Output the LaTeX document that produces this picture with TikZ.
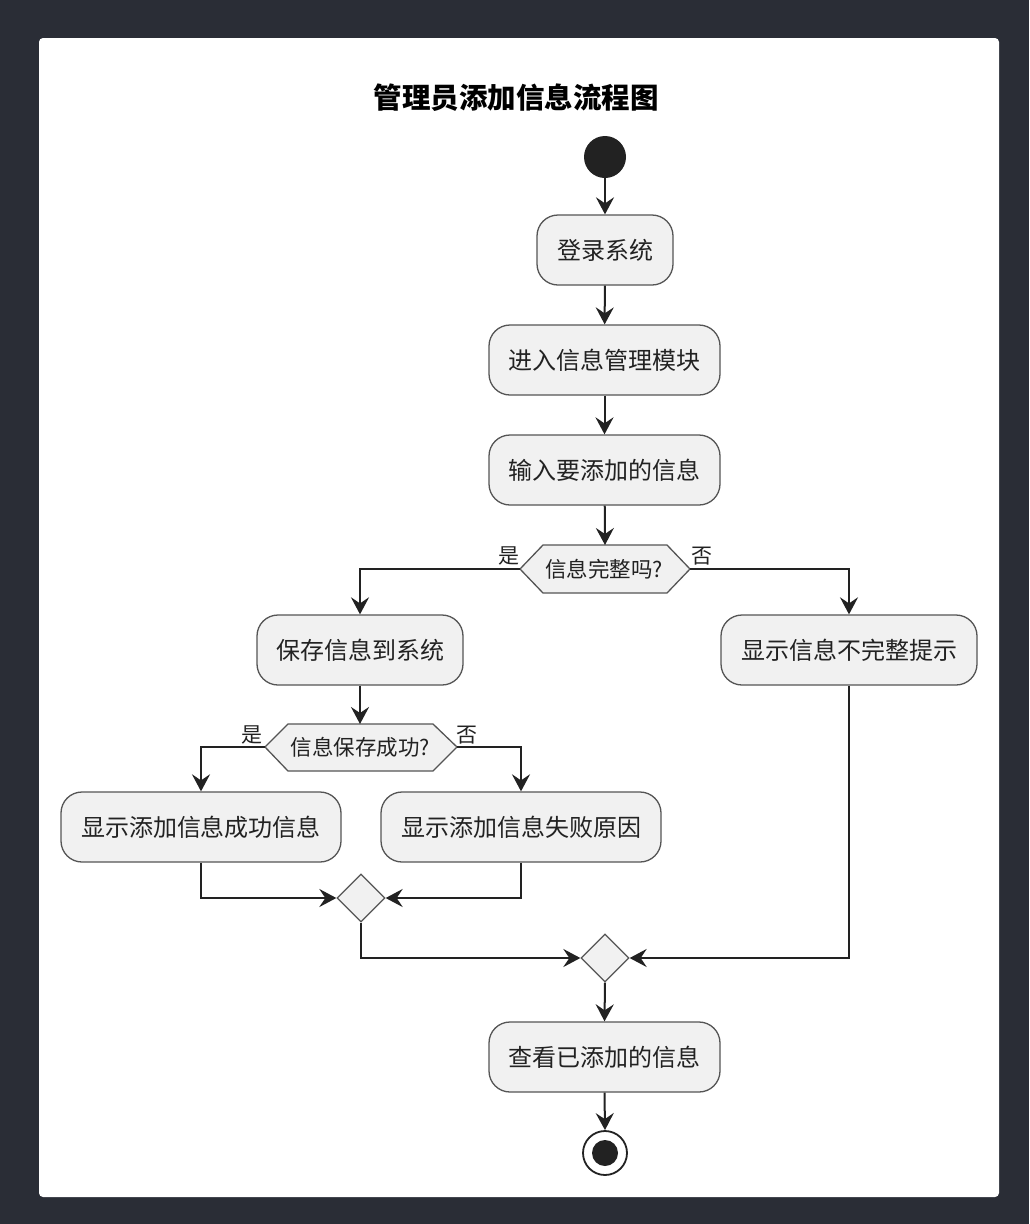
\documentclass[tikz,border=0pt]{standalone}
\usepackage{fontspec}
\setmainfont{Noto Sans CJK SC}
\usetikzlibrary{arrows.meta,shapes.geometric}
\definecolor{bgdark}{HTML}{2A2D36}
\definecolor{boxfill}{HTML}{F1F1F1}
\definecolor{boxline}{HTML}{555555}
\definecolor{ink}{HTML}{222222}
\tikzset{
  actbox/.style={draw=boxline,line width=1.3pt,fill=boxfill,rounded corners=21pt,
    minimum height=70pt,inner sep=0pt,font=\fontsize{24}{28}\selectfont,text=ink},
  hexfill/.style={draw=boxline,line width=1.3pt,fill=boxfill},
  hextext/.style={inner sep=0pt,font=\fontsize{21.5}{25}\selectfont,text=ink},
  mergebox/.style={diamond,draw=boxline,line width=1.3pt,fill=boxfill,minimum width=48pt,minimum height=48pt,inner sep=0pt},
  lbl/.style={inner sep=0pt,font=\fontsize{21}{25}\selectfont,text=ink},
  flow/.style={draw=ink,line width=2pt,-{Stealth[length=17pt,width=18pt,inset=6pt]}},
}
\begin{document}
\begin{tikzpicture}[x=1pt,y=-1pt]
\useasboundingbox (0,0) rectangle (1029,1224);
\fill[bgdark] (0,0) rectangle (1029,1224);
\fill[white,rounded corners=4pt] (39,38) rectangle (999,1197);

\node[font=\fontsize{28.5}{33}\selectfont\bfseries,text=black,inner sep=0pt] (title) at (516,98) {管理员添加信息流程图};

\node[circle,fill=ink,minimum size=42pt,inner sep=0pt] (start) at (605,157) {};

\node[actbox,minimum width=136pt] (n1) at (605,250) {登录系统};
\node[actbox,minimum width=231pt] (n2) at (604.5,360) {进入信息管理模块};
\node[actbox,minimum width=231pt] (n3) at (604.5,470) {输入要添加的信息};

\draw[hexfill] (520,569) -- (543,545) -- (667,545) -- (690,569) -- (667,593) -- (543,593) -- cycle;
\node[hextext] (d1) at (604,569) {信息完整吗?};
\coordinate (d1n) at (605,545);
\coordinate (d1w) at (520,569);
\coordinate (d1e) at (690,569);
\node[lbl] (d1yes) at (509,556) {是};
\node[lbl] (d1no) at (702,556) {否};

\node[actbox,minimum width=206pt] (n4) at (360,650) {保存信息到系统};
\node[actbox,minimum width=256pt] (n5) at (849,650) {显示信息不完整提示};

\draw[hexfill] (265,747) -- (288,724) -- (433,724) -- (457,747) -- (433,771) -- (288,771) -- cycle;
\node[hextext] (d2) at (360.5,747.5) {信息保存成功?};
\coordinate (d2n) at (360,724);
\coordinate (d2w) at (265,747);
\coordinate (d2e) at (457,747);
\node[lbl] (d2yes) at (252,735) {是};
\node[lbl] (d2no) at (467,735) {否};

\node[actbox,minimum width=280pt] (n6) at (201,827) {显示添加信息成功信息};
\node[actbox,minimum width=280pt] (n7) at (521,827) {显示添加信息失败原因};

\node[mergebox] (m1) at (361,898) {};
\node[mergebox] (m2) at (605,958) {};

\node[actbox,minimum width=231pt] (n8) at (604.5,1057) {查看已添加的信息};

\node[circle,draw=ink,line width=1.8pt,fill=white,minimum size=44pt,inner sep=0pt] (stop) at (605,1153) {};
\node[circle,fill=ink,minimum size=26pt,inner sep=0pt] (stopdot) at (stop.center) {};

\draw[flow] (start) -- (n1);
\draw[flow] (n1) -- (n2);
\draw[flow] (n2) -- (n3);
\draw[flow] (n3) -- (d1n);
\draw[flow] (d1w) -| (n4.north);
\draw[flow] (d1e) -| (n5.north);
\draw[flow] (n4.south) -- (d2n);
\draw[flow] (d2w) -| (n6.north);
\draw[flow] (d2e) -| (n7.north);
\draw[flow] (n6.south) |- (m1.west);
\draw[flow] (n7.south) |- (m1.east);
\draw[flow] (m1.south) |- (m2.west);
\draw[flow] (n5.south) |- (m2.east);
\draw[flow] (m2.south) -- (n8.north);
\draw[flow] (n8.south) -- (stop.north);
\end{tikzpicture}
\end{document}
